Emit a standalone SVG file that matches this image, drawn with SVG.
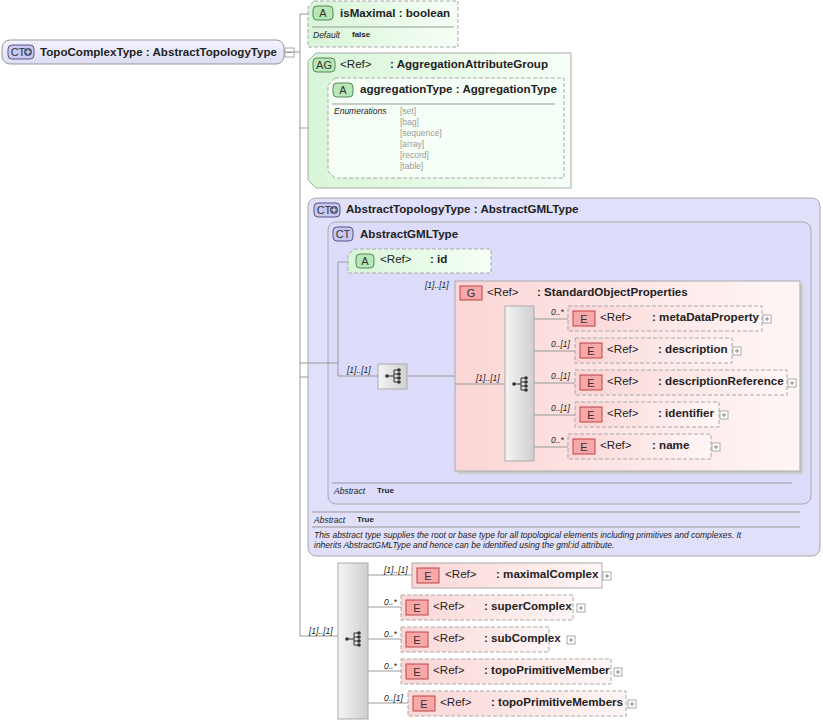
<svg xmlns="http://www.w3.org/2000/svg" width="823" height="724" viewBox="0 0 823 724">
<defs>
<linearGradient id="gG" x1="0" y1="0" x2="1" y2="0"><stop offset="0" stop-color="#d8f5d8"/><stop offset="1" stop-color="#f6fff6"/></linearGradient>
<linearGradient id="gP" x1="0" y1="0" x2="1" y2="0"><stop offset="0" stop-color="#fbd6d6"/><stop offset="1" stop-color="#fff6f6"/></linearGradient>
<linearGradient id="gS" x1="0" y1="0" x2="1" y2="0"><stop offset="0" stop-color="#f4f4f4"/><stop offset="1" stop-color="#cfcfcf"/></linearGradient>
<linearGradient id="gB" x1="0" y1="0" x2="0" y2="1"><stop offset="0" stop-color="#f4f4ff"/><stop offset="1" stop-color="#dcdcf4"/></linearGradient>
<g id="seqIcon"><line x1="-7" y1="0" x2="0" y2="0" stroke="#333"/><line x1="0" y1="-6" x2="0" y2="6" stroke="#333"/><line x1="0" y1="-6" x2="5" y2="-6" stroke="#333"/><line x1="0" y1="-2" x2="5" y2="-2" stroke="#333"/><line x1="0" y1="2" x2="5" y2="2" stroke="#333"/><line x1="0" y1="6" x2="5" y2="6" stroke="#333"/><circle cx="-7" cy="0" r="1.8" fill="#333"/><circle cx="5" cy="-6" r="1.8" fill="#333"/><circle cx="5" cy="-2" r="1.8" fill="#333"/><circle cx="5" cy="2" r="1.8" fill="#333"/><circle cx="5" cy="6" r="1.8" fill="#333"/></g>
<g id="plus"><rect x="0" y="0" width="8" height="8" fill="#fff" stroke="#aaa"/><path d="M2 4H6M4 2V6" stroke="#888"/></g>
</defs>
<style>
text{font-family:"Liberation Sans",Arial,sans-serif;fill:#222}
.b{font-size:11.6px;font-weight:bold}
.r{font-size:11.6px}
.sm{font-size:8.5px;font-style:italic}
.v{font-size:8px;font-weight:bold}
.en{font-size:8.5px;fill:#999}
.c{font-size:8.5px;font-style:italic}
.ln{stroke:#999;fill:none}
.el{fill:url(#gP);stroke:#aaa;stroke-dasharray:4 2}
.els{fill:url(#gP);stroke:#aaa}
.eb{fill:#f8a8a8;stroke:#b44}
.bt{font-size:11px;text-anchor:middle;fill:#333}
.seq{fill:url(#gS);stroke:#aaa}
</style>
<g id="root">
<rect x="2" y="40" width="282" height="24" rx="8" fill="url(#gB)" stroke="#999"/>
<rect x="8" y="45" width="26" height="14" rx="4" fill="#c8c8f0" stroke="#558"/>
<text x="18" y="56" class="bt">CT</text><circle cx="28" cy="52" r="4" fill="#557"/><path d="M25.5 52H30.5M28 49.5V54.5" stroke="#fff"/>
<text x="40" y="56" class="b">TopoComplexType : AbstractTopologyType</text>
<rect x="285" y="48" width="9" height="9" fill="#fff" stroke="#aaa"/><path d="M287 52.5H292" stroke="#888"/>
</g>
<g id="isMaximal">
<path d="M314 1H458V47H308V7Z" fill="url(#gG)" stroke="#aaa" stroke-dasharray="4 2"/>
<rect x="313" y="6" width="20" height="14" rx="4" fill="#b8e8b8" stroke="#585"/><text x="323" y="17" class="bt">A</text>
<text x="340" y="17" class="b">isMaximal : boolean</text>
<line x1="312" y1="27" x2="454" y2="27" stroke="#999"/>
<text x="313" y="38" class="sm">Default</text><text x="352" y="37" class="v">false</text>
</g>
<g id="AG">
<path d="M316 53H571V188H316L308 180V61Z" fill="url(#gG)" stroke="#aaa"/>
<rect x="313" y="58" width="22" height="14" rx="4" fill="#b8e8b8" stroke="#585"/><text x="324" y="69" class="bt">AG</text>
<text x="340" y="68" class="r">&lt;Ref&gt;</text><text x="390" y="68" class="b">: AggregationAttributeGroup</text>
<path d="M335 78H564V178H335L328 171V85Z" fill="#f6fff6" stroke="#aaa" stroke-dasharray="4 2"/>
<rect x="333" y="83" width="20" height="14" rx="4" fill="#b8e8b8" stroke="#585"/><text x="343" y="94" class="bt">A</text>
<text x="360" y="93" class="b">aggregationType : AggregationType</text>
<line x1="332" y1="104" x2="555" y2="104" stroke="#999"/>
<text x="334" y="114" class="sm">Enumerations</text>
<text x="400" y="114" class="en">[set]</text><text x="400" y="125" class="en">[bag]</text><text x="400" y="136" class="en">[sequence]</text><text x="400" y="147" class="en">[array]</text><text x="400" y="158" class="en">[record]</text><text x="400" y="169" class="en">[table]</text>
</g>
<g id="AbstractTopologyType">
<rect x="308" y="198" width="512" height="358" rx="8" fill="#e0e0fa" stroke="#aaa"/>
<rect x="314" y="203" width="26" height="14" rx="4" fill="#c8c8f0" stroke="#558"/><text x="324" y="214" class="bt">CT</text><circle cx="334" cy="210" r="4" fill="#557"/><path d="M331.5 210H336.5M334 207.5V212.5" stroke="#fff"/>
<text x="346" y="213" class="b">AbstractTopologyType : AbstractGMLType</text>
<line x1="312" y1="512" x2="800" y2="512" stroke="#999"/>
<text x="314" y="523" class="c">Abstract</text><text x="357" y="522" class="v">True</text>
<line x1="312" y1="527" x2="800" y2="527" stroke="#999"/>
<text x="314" y="538" class="c">This abstract type supplies the root or base type for all topological elements including primitives and complexes. It</text>
<text x="314" y="548" class="c">inherits AbstractGMLType and hence can be identified using the gml:id attribute.</text>
</g>
<g id="AbstractGMLType">
<rect x="328" y="222" width="483" height="282" rx="8" fill="#dcdcfa" stroke="#aaa"/>
<rect x="333" y="227" width="20" height="14" rx="4" fill="#c8c8f0" stroke="#558"/><text x="343" y="238" class="bt">CT</text>
<text x="360" y="238" class="b">AbstractGMLType</text>
<line x1="332" y1="483" x2="792" y2="483" stroke="#999"/>
<text x="334" y="494" class="c">Abstract</text><text x="377" y="493" class="v">True</text>
</g>
<g id="connectors">
<path class="ln" d="M284 52H300M300 14V636M300 14H308M300 128H308M300 377H308M300 363H338M338 262V376M338 262H348M338 376H378M407 376H455M455 384H505M534 319H568M534 351H575M534 383H575M534 415H575M534 447H568M300 636H338M368 575H412M368 607H401M368 639H401M368 671H401M368 703H408"/>
</g>
<g id="id">
<path d="M354 249H491V273H348V255Z" fill="url(#gG)" stroke="#aaa" stroke-dasharray="4 2"/>
<rect x="356" y="254" width="18" height="14" rx="4" fill="#b8e8b8" stroke="#585"/><text x="365" y="265" class="bt">A</text>
<text x="380" y="263" class="r">&lt;Ref&gt;</text><text x="430" y="263" class="b">: id</text>
</g>
<g id="seq1">
<text x="347" y="373" class="c">[1]..[1]</text>
<rect x="378" y="364" width="29" height="25" class="seq"/><use href="#seqIcon" x="394" y="376"/>
</g>
<g id="SOP">
<text x="425" y="288" class="c">[1]..[1]</text>
<rect x="458" y="284" width="345" height="190" fill="#ccc"/>
<rect x="455" y="281" width="345" height="190" fill="url(#gP)" stroke="#aaa"/>
<rect x="460" y="286" width="22" height="14" fill="#f8a8a8" stroke="#b44"/><text x="471" y="297" class="bt">G</text>
<text x="487" y="296" class="r">&lt;Ref&gt;</text><text x="537" y="296" class="b">: StandardObjectProperties</text>
<path class="ln" d="M455 384H505"/>
<text x="476" y="381" class="c">[1]..[1]</text>
<rect x="505" y="306" width="29" height="155" class="seq"/><use href="#seqIcon" x="521" y="384"/>
<path class="ln" d="M534 319H568M534 351H575M534 383H575M534 415H575M534 447H568"/>
</g>
<g id="metaDataProperty"><text x="551" y="315" class="c">0..*</text><rect x="568" y="306" width="194" height="25" class="el"/><rect x="573" y="311" width="22" height="15" class="eb"/><text x="584" y="323" class="bt">E</text><text x="600" y="321" class="r">&lt;Ref&gt;</text><text x="652" y="321" class="b">: metaDataProperty</text><use href="#plus" x="763" y="315"/></g>
<g id="description"><text x="551" y="347" class="c">0..[1]</text><rect x="575" y="338" width="157" height="25" class="el"/><rect x="580" y="343" width="22" height="15" class="eb"/><text x="591" y="355" class="bt">E</text><text x="607" y="353" class="r">&lt;Ref&gt;</text><text x="658" y="353" class="b">: description</text><use href="#plus" x="733" y="347"/></g>
<g id="descriptionReference"><text x="551" y="379" class="c">0..[1]</text><rect x="575" y="370" width="212" height="25" class="el"/><rect x="580" y="375" width="22" height="15" class="eb"/><text x="591" y="387" class="bt">E</text><text x="607" y="385" class="r">&lt;Ref&gt;</text><text x="658" y="385" class="b">: descriptionReference</text><use href="#plus" x="788" y="379"/></g>
<g id="identifier"><text x="551" y="411" class="c">0..[1]</text><rect x="575" y="402" width="144" height="25" class="el"/><rect x="580" y="407" width="22" height="15" class="eb"/><text x="591" y="419" class="bt">E</text><text x="607" y="417" class="r">&lt;Ref&gt;</text><text x="658" y="417" class="b">: identifier</text><use href="#plus" x="720" y="411"/></g>
<g id="name"><text x="551" y="443" class="c">0..*</text><rect x="568" y="434" width="143" height="25" class="el"/><rect x="573" y="439" width="22" height="15" class="eb"/><text x="584" y="451" class="bt">E</text><text x="600" y="449" class="r">&lt;Ref&gt;</text><text x="652" y="449" class="b">: name</text><use href="#plus" x="712" y="443"/></g>
<g id="seq2">
<text x="309" y="634" class="c">[1]..[1]</text>
<rect x="338" y="563" width="30" height="156" class="seq"/><use href="#seqIcon" x="354" y="639"/>
</g>
<g id="maximalComplex"><text x="384" y="573" class="c">[1]..[1]</text><rect x="412" y="563" width="190" height="25" class="els"/><rect x="417" y="568" width="22" height="15" class="eb"/><text x="428" y="580" class="bt">E</text><text x="445" y="578" class="r">&lt;Ref&gt;</text><text x="496" y="578" class="b">: maximalComplex</text><use href="#plus" x="603" y="572"/></g>
<g id="superComplex"><text x="384" y="605" class="c">0..*</text><rect x="401" y="595" width="172" height="25" class="el"/><rect x="406" y="600" width="22" height="15" class="eb"/><text x="417" y="612" class="bt">E</text><text x="433" y="610" class="r">&lt;Ref&gt;</text><text x="484" y="610" class="b">: superComplex</text><use href="#plus" x="577" y="604"/></g>
<g id="subComplex"><text x="384" y="637" class="c">0..*</text><rect x="401" y="627" width="148" height="25" class="el"/><rect x="406" y="632" width="22" height="15" class="eb"/><text x="417" y="644" class="bt">E</text><text x="433" y="642" class="r">&lt;Ref&gt;</text><text x="484" y="642" class="b">: subComplex</text><use href="#plus" x="567" y="636"/></g>
<g id="topoPrimitiveMember"><text x="384" y="669" class="c">0..*</text><rect x="401" y="659" width="210" height="25" class="el"/><rect x="406" y="664" width="22" height="15" class="eb"/><text x="417" y="676" class="bt">E</text><text x="433" y="674" class="r">&lt;Ref&gt;</text><text x="484" y="674" class="b">: topoPrimitiveMember</text><use href="#plus" x="614" y="668"/></g>
<g id="topoPrimitiveMembers"><text x="384" y="701" class="c">0..[1]</text><rect x="408" y="691" width="218" height="25" class="el"/><rect x="413" y="696" width="22" height="15" class="eb"/><text x="424" y="708" class="bt">E</text><text x="440" y="706" class="r">&lt;Ref&gt;</text><text x="491" y="706" class="b">: topoPrimitiveMembers</text><use href="#plus" x="628" y="700"/></g>
</svg>
